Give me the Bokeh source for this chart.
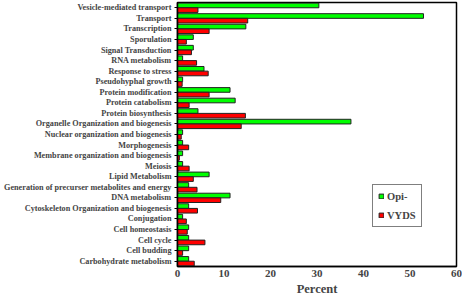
from bokeh.plotting import figure
from bokeh.models import ColumnDataSource, FactorRange, Legend, LegendItem
from bokeh.transform import dodge
from bokeh.embed import file_html
from bokeh.resources import INLINE

# Categories from top to bottom as in the reference
categories = [
    "Vesicle-mediated transport",
    "Transport",
    "Transcription",
    "Sporulation",
    "Signal Transduction",
    "RNA metabolism",
    "Response to stress",
    "Pseudohyphal growth",
    "Protein modification",
    "Protein catabolism",
    "Protein biosynthesis",
    "Organelle Organization and biogenesis",
    "Nuclear organization and biogenesis",
    "Morphogenesis",
    "Membrane organization and biogenesis",
    "Meiosis",
    "Lipid Metabolism",
    "Generation of precurser metabolites and energy",
    "DNA metabolism",
    "Cytoskeleton Organization and biogenesis",
    "Conjugation",
    "Cell homeostasis",
    "Cell cycle",
    "Cell budding",
    "Carbohydrate metabolism",
]
opi = [30.4, 52.9, 14.7, 3.4, 3.4, 1.1, 5.7, 1.1, 11.3, 12.4, 4.4, 37.3, 1.1, 1.1,
       1.1, 1.1, 6.8, 2.4, 11.3, 2.4, 1.1, 2.4, 2.4, 2.4, 2.4]
vyds = [4.4, 15.1, 6.8, 1.9, 3.0, 4.1, 6.6, 1.0, 6.8, 2.5, 14.6, 13.7, 0.8, 2.4,
        0.4, 2.5, 3.4, 4.2, 9.3, 4.3, 1.9, 2.1, 5.9, 1.1, 3.6]
series_names = ["Opi-", "VYDS"]
x_ticks = [0, 10, 20, 30, 40, 50, 60]

src = ColumnDataSource(dict(cat=categories, opi=opi, vyds=vyds))

FONT = "Liberation Serif"

p = figure(width=462, height=298, output_backend="svg", toolbar_location=None,
           y_range=FactorRange(factors=list(reversed(categories)), range_padding=0),
           x_range=(0, 60),
           min_border_left=177, min_border_right=6, min_border_top=2, min_border_bottom=30)

g = p.hbar(y=dodge("cat", 0.22, range=p.y_range), right="opi", left=0, height=0.44,
           source=src, fill_color="#00ff00", line_color="#222222", line_width=1)
r = p.hbar(y=dodge("cat", -0.22, range=p.y_range), right="vyds", left=0, height=0.44,
           source=src, fill_color="#ff0000", line_color="#222222", line_width=1)

p.xgrid.visible = False
p.ygrid.visible = False
p.outline_line_color = "black"
p.outline_line_width = 1.5
p.background_fill_color = "white"
p.border_fill_color = "white"

p.xaxis.ticker = x_ticks
p.xaxis.axis_label = "Percent"
p.xaxis.axis_label_text_font = FONT
p.xaxis.axis_label_text_font_style = "bold"
p.xaxis.axis_label_text_font_size = "12.5px"
p.xaxis.axis_label_standoff = 2
p.xaxis.major_label_text_font = FONT
p.xaxis.major_label_text_font_style = "bold"
p.xaxis.major_label_text_font_size = "11px"
p.xaxis.major_label_standoff = 3
p.xaxis.major_tick_out = 0
p.xaxis.major_tick_in = 0
p.xaxis.minor_tick_out = 0
p.xaxis.minor_tick_in = 0
p.xaxis.axis_line_width = 1.5

p.yaxis.major_label_text_font = FONT
p.yaxis.major_label_text_font_style = "bold"
p.yaxis.major_label_text_font_size = "8.2px"
p.yaxis.major_label_standoff = 3
p.yaxis.major_tick_out = 3
p.yaxis.major_tick_in = 0
p.yaxis.axis_line_width = 1.5

legend = Legend(items=[LegendItem(label=series_names[0], renderers=[g]),
                       LegendItem(label=series_names[1], renderers=[r])],
                location=(195, 39), orientation="vertical",
                glyph_width=6, glyph_height=6, label_standoff=3,
                label_height=12, label_width=20, spacing=7, padding=5, margin=0,
                label_text_font=FONT, label_text_font_style="bold",
                label_text_font_size="10.5px",
                border_line_color="black", border_line_width=1,
                background_fill_color="white", background_fill_alpha=1)
p.add_layout(legend, "center")

open("out.html", "w").write(file_html(p, INLINE))
